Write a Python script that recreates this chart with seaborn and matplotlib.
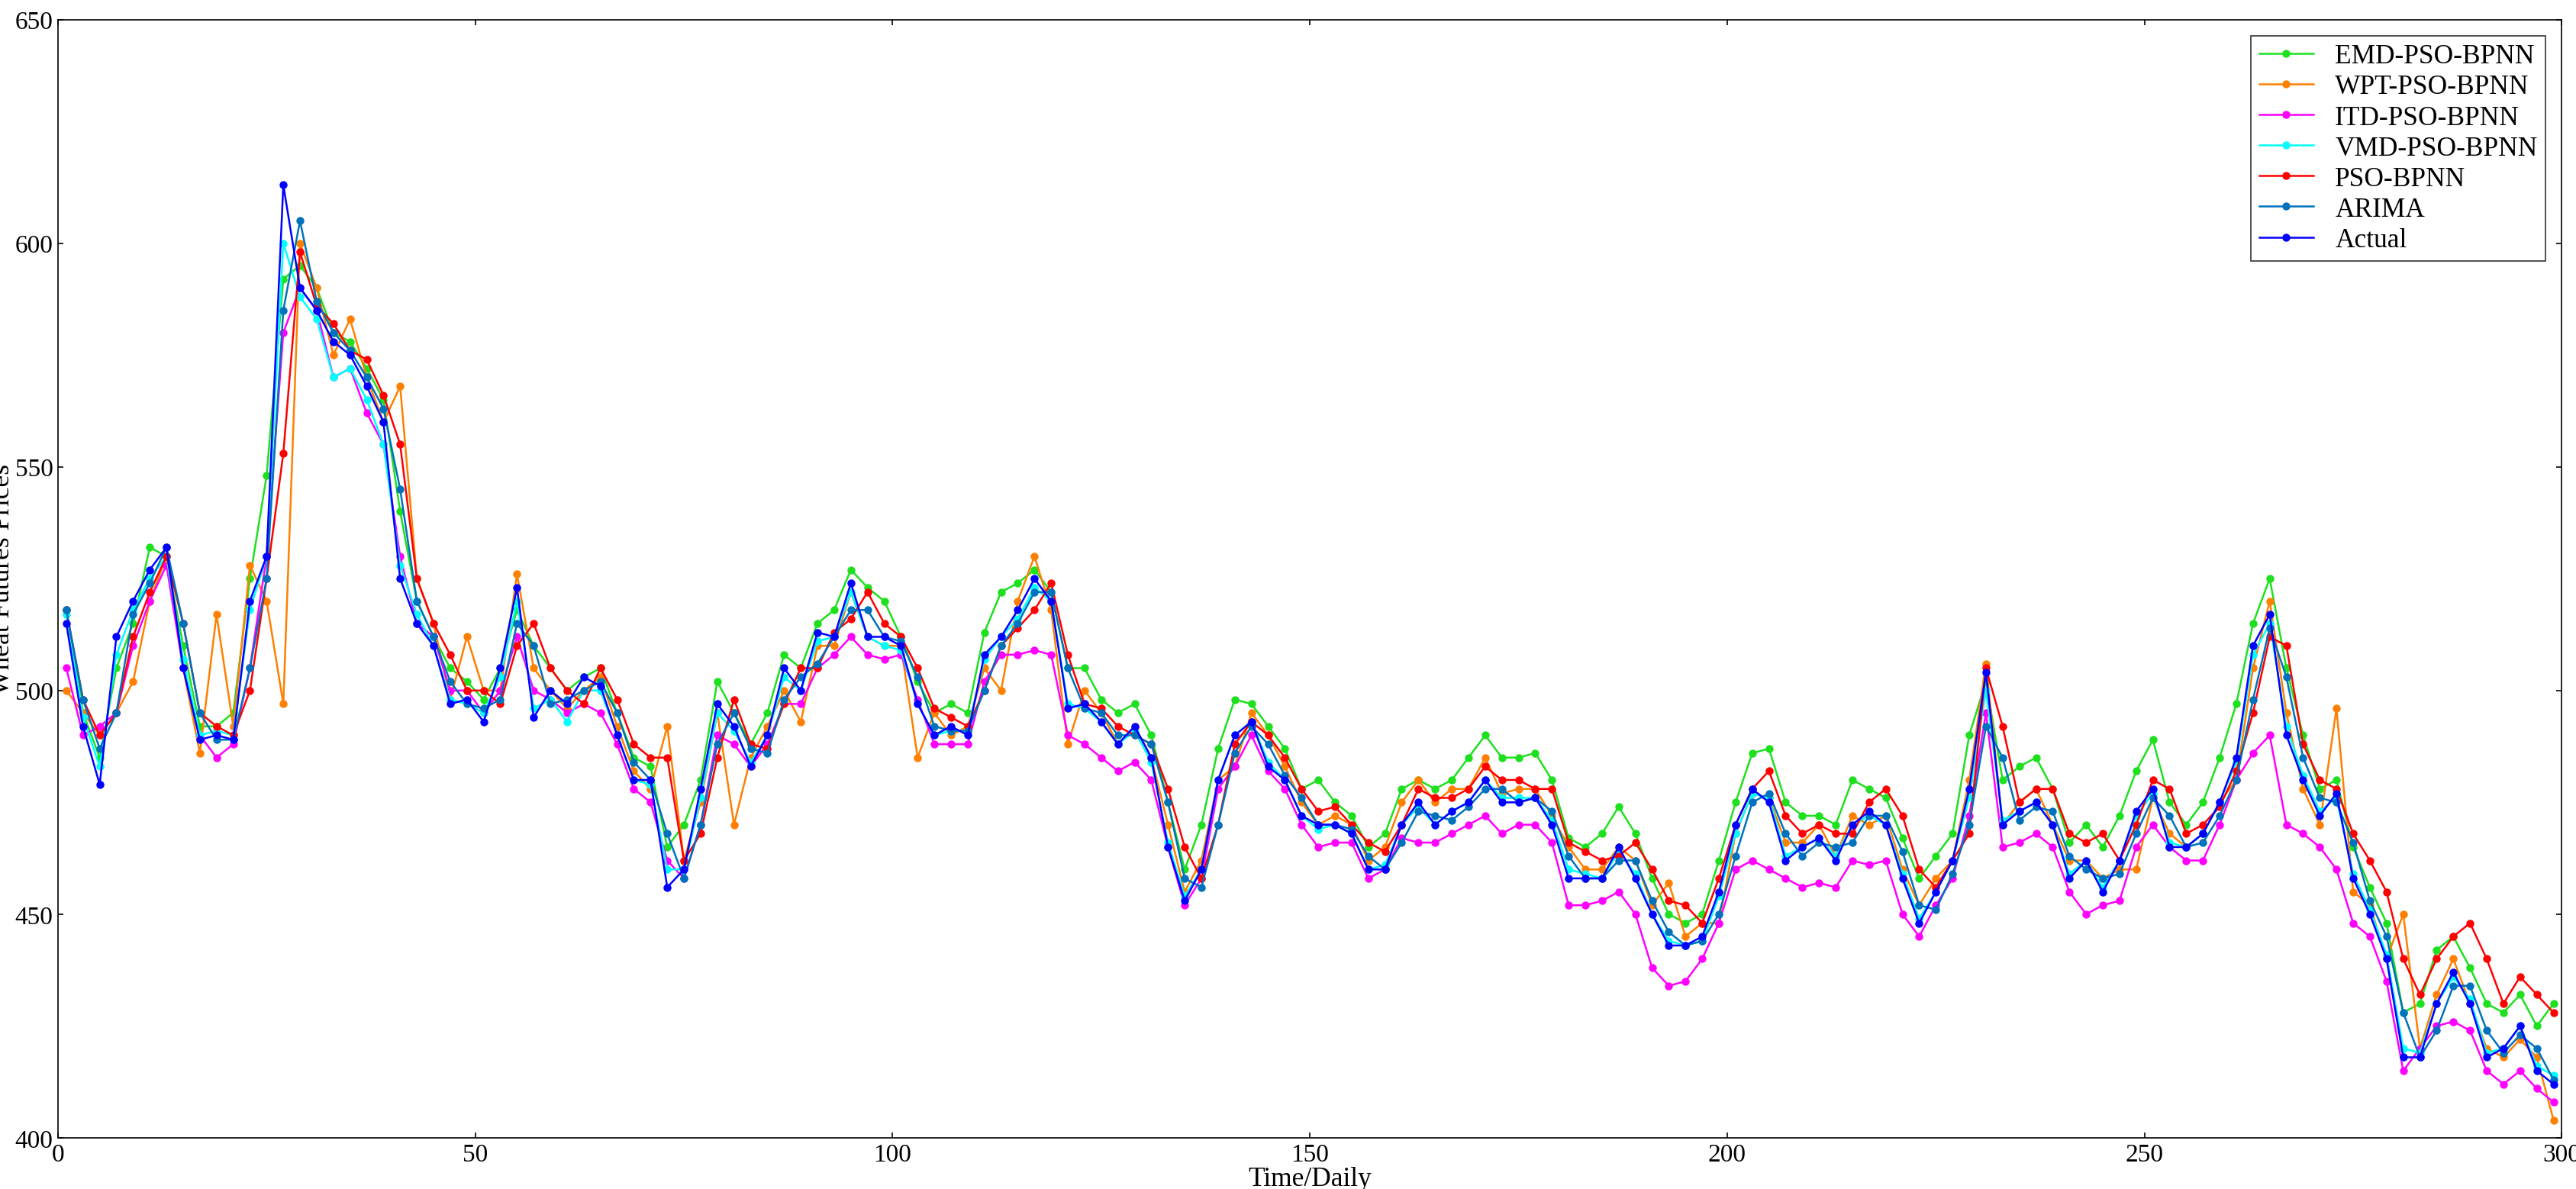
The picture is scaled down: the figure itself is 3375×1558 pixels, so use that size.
import numpy as np
import pandas as pd
import matplotlib
matplotlib.use("Agg")
import matplotlib.pyplot as plt
import seaborn as sns

# time index (every second trading day)
days = list(range(1, 300, 2))

actual = [515,492,479,512,520,527,532,505,489,490,489,520,530,613,590,585,578,575,568,560,
          525,515,510,497,498,493,505,523,494,500,497,503,501,490,480,480,456,460,478,497,
          492,483,490,505,500,513,512,524,512,512,510,497,490,492,490,508,512,518,525,520,
          496,497,493,488,492,485,465,453,460,480,490,493,483,480,472,470,470,468,460,460,
          470,475,470,473,475,480,475,475,476,470,458,458,458,465,458,450,443,443,445,455,
          470,478,475,462,465,467,462,470,473,470,458,448,455,462,478,504,470,473,475,470,
          458,462,455,462,473,478,465,465,468,475,485,510,517,490,480,472,477,458,450,440,
          418,418,430,437,430,418,420,425,415,412]

emd = [518,495,485,505,515,532,530,510,492,492,495,525,548,592,595,590,580,578,572,565,
       540,520,512,505,502,498,505,518,510,505,500,503,505,495,485,483,465,470,480,502,
       495,488,495,508,505,515,518,527,523,520,512,502,495,497,495,513,522,524,527,522,
       505,505,498,495,497,490,475,460,470,487,498,497,492,487,478,480,475,472,465,468,
       478,480,478,480,485,490,485,485,486,480,467,465,468,474,468,458,450,448,450,462,
       475,486,487,475,472,472,470,480,478,476,467,458,463,468,490,502,480,483,485,478,
       466,470,465,472,482,489,475,470,475,485,497,515,525,505,490,478,480,465,456,448,
       428,430,442,445,438,430,428,432,425,430]

wpt = [500,495,490,495,502,520,530,505,486,517,492,528,520,497,600,590,575,583,570,560,
       568,525,515,498,512,500,500,526,505,500,496,500,503,492,482,478,492,462,475,495,
       470,485,492,500,493,510,510,522,512,510,510,485,495,490,492,505,500,520,530,518,
       488,500,495,488,492,485,470,455,462,480,483,495,490,483,475,470,472,470,462,465,
       475,480,475,478,478,485,477,478,478,472,465,460,460,465,462,452,457,445,448,448,
       468,477,476,466,466,470,463,472,470,472,460,452,458,462,480,506,470,475,478,470,
       462,462,458,460,460,476,468,465,468,475,480,505,520,495,478,470,496,455,452,440,
       450,420,432,440,430,420,418,422,418,404]

itd = [505,490,492,495,510,520,528,505,490,485,488,505,530,580,590,585,570,572,562,555,
       530,515,512,500,500,495,500,512,500,498,495,497,495,488,478,475,462,458,470,490,
       488,483,488,497,497,505,508,512,508,507,508,498,488,488,488,502,508,508,509,508,
       490,488,485,482,484,480,465,452,458,478,483,490,482,478,470,465,466,466,458,460,
       467,466,466,468,470,472,468,470,470,466,452,452,453,455,450,438,434,435,440,448,
       460,462,460,458,456,457,456,462,461,462,450,445,452,458,472,495,465,466,468,465,
       455,450,452,453,465,470,465,462,462,470,480,486,490,470,468,465,460,448,445,435,
       415,420,425,426,424,415,412,415,411,408]

vmd = [517,494,483,508,518,525,530,507,490,491,490,518,530,600,588,583,570,572,565,555,
       528,517,510,498,497,495,503,520,496,498,493,500,500,490,480,479,460,460,476,495,
       491,484,490,503,500,511,512,522,512,510,509,497,490,491,491,507,512,516,523,520,
       497,496,493,488,491,484,466,454,460,480,490,493,484,480,472,469,470,468,460,461,
       470,474,470,473,475,480,476,476,476,471,460,459,458,464,459,450,444,443,444,454,
       468,477,476,463,465,467,463,470,472,470,459,449,455,462,476,500,471,473,475,470,
       459,462,456,462,472,477,466,465,468,475,484,508,515,492,481,473,476,459,451,441,
       420,419,430,436,431,419,420,425,416,414]

pso = [518,498,490,495,512,522,530,515,495,492,490,500,525,553,598,586,582,576,574,566,
       555,525,515,508,500,500,497,510,515,505,500,497,505,498,488,485,485,462,468,485,
       498,488,487,497,505,505,513,516,522,515,512,505,496,494,492,500,510,514,518,524,
       508,497,496,492,490,488,478,465,458,470,488,493,490,485,478,473,474,470,466,464,
       470,478,476,476,478,483,480,480,478,478,466,464,462,463,466,460,453,452,448,458,
       470,478,482,472,468,470,468,468,475,478,472,460,456,462,468,505,492,475,478,478,
       468,466,468,462,470,480,478,468,470,474,482,495,512,510,488,480,478,468,462,455,
       440,432,440,445,448,440,430,436,432,428]

arima = [518,498,487,495,517,524,532,515,495,489,489,505,525,585,605,587,580,576,570,563,
         545,520,512,502,497,496,498,515,510,497,498,500,502,495,484,480,468,458,470,488,
         495,487,486,498,503,506,512,518,518,512,511,503,492,491,491,500,510,515,522,522,
         505,496,495,490,490,488,475,458,456,470,486,492,488,481,476,470,470,469,463,460,
         466,473,472,471,474,478,478,475,476,473,463,458,458,462,462,453,446,443,444,450,
         463,475,477,468,463,466,465,466,472,472,464,452,451,459,470,492,485,471,474,473,
         463,460,458,459,468,476,472,465,466,472,480,498,514,503,485,476,475,466,453,445,
         428,418,424,434,434,424,419,423,420,413]

names = ["EMD-PSO-BPNN", "WPT-PSO-BPNN", "ITD-PSO-BPNN", "VMD-PSO-BPNN", "PSO-BPNN", "ARIMA", "Actual"]
series = [emd, wpt, itd, vmd, pso, arima, actual]
colors = ["#1ee01e", "#ff8000", "#ff00ff", "#00ffff", "#ff0000", "#0072bd", "#0000ff"]

df = pd.concat([pd.DataFrame({"day": days, "price": s, "model": n}) for n, s in zip(names, series)])

plt.rcParams["font.family"] = "Liberation Serif"
fig = plt.figure(figsize=(22.5, 10.393), dpi=150)
ax = fig.add_axes([0.0225, 0.043, 0.972, 0.94])
sns.lineplot(data=df, x="day", y="price", hue="model", hue_order=names,
             palette=colors, marker="o", markersize=5, markeredgewidth=0,
             linewidth=1.2, ax=ax)
ax.set_xlim(0, 300)
ax.set_ylim(400, 650)
ax.set_xticks([0, 50, 100, 150, 200, 250, 300])
ax.set_yticks([400, 450, 500, 550, 600, 650])
ax.tick_params(direction="in", labelsize=16, top=True, right=True, pad=3)
ax.set_xlabel("Time/Daily", fontsize=17, labelpad=0)
ax.set_ylabel("Wheat Futures Prices", fontsize=17, labelpad=0)
leg = ax.legend(loc="upper right", fontsize=17, frameon=True, fancybox=False,
                edgecolor="black", borderpad=0.3, labelspacing=0.2, handlelength=2.0,
                borderaxespad=0.6)
leg.get_frame().set_linewidth(0.8)
fig.savefig("out.png", dpi=150)
